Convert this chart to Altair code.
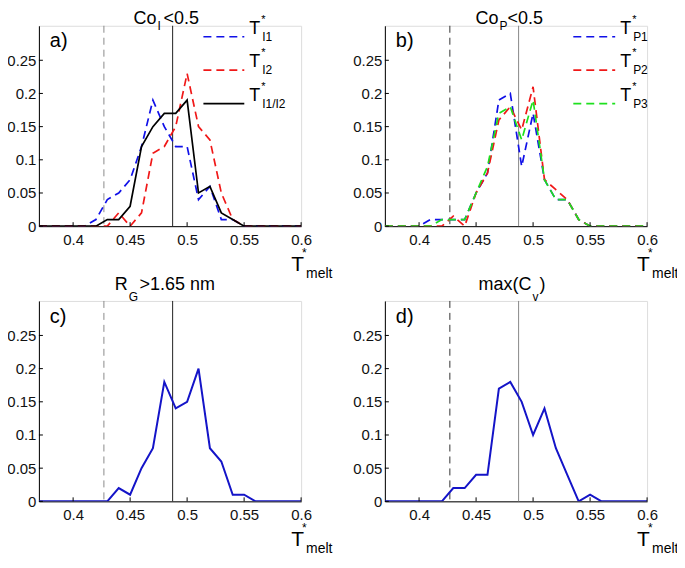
import altair as alt
import pandas as pd

FONT = "Liberation Sans"

# ---------------- data ----------------
T_grid = [0.37, 0.38, 0.39, 0.40, 0.41, 0.42, 0.43, 0.44, 0.45, 0.46, 0.47, 0.48,
          0.49, 0.50, 0.51, 0.52, 0.53, 0.54, 0.55, 0.56, 0.57, 0.58, 0.59, 0.60]

a_I1 = [0, 0, 0, 0, 0, 0.01, 0.04, 0.05, 0.07, 0.12, 0.19, 0.15,
        0.12, 0.12, 0.04, 0.06, 0.01, 0.01, 0, 0, 0, 0, 0, 0]
a_I2 = [0, 0, 0, 0, 0, 0, 0, 0.02, 0, 0.02, 0.11, 0.12,
        0.15, 0.23, 0.15, 0.13, 0.05, 0.01, 0, 0, 0, 0, 0, 0]
a_I1I2 = [0, 0, 0, 0, 0, 0, 0.01, 0.01, 0.03, 0.12, 0.15, 0.17,
          0.17, 0.19, 0.05, 0.06, 0.02, 0.01, 0, 0, 0, 0, 0, 0]

b_P1 = [0, 0, 0, 0, 0.01, 0.01, 0.01, 0.01, 0.05, 0.08, 0.19, 0.20,
        0.09, 0.17, 0.07, 0.04, 0.04, 0.01, 0, 0, 0, 0, 0, 0]
b_P2 = [0, 0, 0, 0, 0, 0, 0.015, 0, 0.05, 0.08, 0.16, 0.18,
        0.145, 0.21, 0.07, 0.055, 0.04, 0.01, 0, 0, 0, 0, 0, 0]
b_P3 = [0, 0, 0, 0, 0, 0.01, 0.01, 0.01, 0.05, 0.09, 0.17, 0.18,
        0.13, 0.19, 0.07, 0.04, 0.04, 0.01, 0, 0, 0, 0, 0, 0]

c_RG = [0, 0, 0, 0, 0, 0, 0, 0.02, 0.01, 0.05, 0.08, 0.18,
        0.14, 0.15, 0.20, 0.08, 0.06, 0.01, 0.01, 0, 0, 0, 0, 0]
d_Cv = [0, 0, 0, 0, 0, 0, 0.02, 0.02, 0.04, 0.04, 0.17, 0.18,
        0.15, 0.10, 0.14, 0.08, 0.04, 0, 0.01, 0, 0, 0, 0, 0]

ref_dashed = [0.427]
ref_solid = [0.4873]
x_ticks = [0.4, 0.45, 0.5, 0.55, 0.6]
y_ticks = [0, 0.05, 0.1, 0.15, 0.2, 0.25]
x_domain = [0.37, 0.6]
y_domain = [0, 0.302]

# ---------------- styling ----------------
W, H = 263, 201
BLUE = "#1010e8"
BLUE_SOLID = "#1414c8"
RED = "#f01818"
GREEN = "#1ee01e"
DASH = [8, 5]
LW = 1.7

XS = alt.Scale(domain=x_domain, nice=False, zero=False)
YS = alt.Scale(domain=y_domain, nice=False, zero=False)
XA = alt.Axis(values=x_ticks, format=".2~f", title=None, ticks=False, labelPadding=6,
              labelFlush=False, labelOverlap=False, grid=False, domainColor="#000",
              domainWidth=1, labelFontSize=15, labelFont=FONT, labelColor="#111")
YA = alt.Axis(values=y_ticks, format=".2~f", title=None, ticks=False, labelPadding=3,
              labelFlush=False, labelOverlap=False, grid=False, domainColor="#000",
              domainWidth=1, labelFontSize=15, labelFont=FONT, labelColor="#111")


def one():
    return alt.Data(values=[{"k": 1}])


def curve(ys, color, dash=None, width=LW):
    df = pd.DataFrame({"T": T_grid, "f": ys})
    kw = dict(color=color, strokeWidth=width, clip=True)
    if dash:
        kw["strokeDash"] = dash
    return alt.Chart(df).mark_line(**kw).encode(
        x=alt.X("T:Q", scale=XS, axis=XA),
        y=alt.Y("f:Q", scale=YS, axis=YA),
    )


def vline(vals, color, dash=None):
    kw = dict(color=color, strokeWidth=1)
    if dash:
        kw["strokeDash"] = dash
    return alt.Chart(pd.DataFrame({"v": vals})).mark_rule(**kw).encode(
        x=alt.X("v:Q", scale=XS, axis=XA)
    )


def inward_ticks():
    yt = alt.Chart(pd.DataFrame({"v": y_ticks})).mark_rule(color="#000", strokeWidth=1).encode(
        y=alt.Y("v:Q", scale=YS, axis=YA), x=alt.value(0), x2=alt.value(4)
    )
    xt = alt.Chart(pd.DataFrame({"v": x_ticks})).mark_rule(color="#000", strokeWidth=1).encode(
        x=alt.X("v:Q", scale=XS, axis=XA), y=alt.value(H), y2=alt.value(H - 4)
    )
    return [yt, xt]


def txt(s, x, y, size, color="#000"):
    return alt.Chart(alt.Data(values=[{"t": s}])).mark_text(
        align="left", baseline="alphabetic", fontSize=size, font=FONT, color=color
    ).encode(text="t:N", x=alt.value(x), y=alt.value(y))


def seg(x1, x2, y, color, dash=None):
    kw = dict(color=color, strokeWidth=LW)
    if dash:
        kw["strokeDash"] = dash
    return alt.Chart(one()).mark_rule(**kw).encode(
        x=alt.value(x1), x2=alt.value(x2), y=alt.value(y)
    )


def tstar(x, y, sub, big=18, small=12):
    # T with superscript * and a subscript
    return [
        txt("T", x, y, big),
        txt("*", x + 12, y - 11, 11),
        txt(sub, x + 13, y + 7, small),
    ]


def xlabel():
    return [
        txt("T", W - 10, H + 45, 21),
        txt("*", W + 1, H + 31, 12),
        txt("melt", W + 5, H + 52, 14),
    ]


# ---------------- panel a ----------------
rows = [11, 44.5, 78]
pa_layers = [
    vline(ref_dashed, "#8a8a8a", [7, 5]),
    vline(ref_solid, "#222"),
    curve(a_I1, BLUE, DASH),
    curve(a_I2, RED, DASH),
    curve(a_I1I2, "#000"),
    *inward_ticks(),
    txt("a)", 11, 21, 20),
    txt("Co", 95, -2, 18), txt("I", 119, 4, 12), txt("<0.5", 125, -2, 18),
    seg(165, 206, rows[0], BLUE, DASH), *tstar(211, rows[0] - 3, "I1"),
    seg(165, 206, rows[1], RED, DASH), *tstar(211, rows[1] - 3, "I2"),
    seg(165, 206, rows[2], "#000"), *tstar(211, rows[2] - 3, "I1/I2"),
    *xlabel(),
]
pa = alt.layer(*pa_layers).properties(width=W, height=H)

# ---------------- panel b ----------------
pb_layers = [
    vline(ref_dashed, "#333", [7, 5]),
    vline(ref_solid, "#888"),
    curve(b_P1, BLUE, DASH),
    curve(b_P2, RED, DASH),
    curve(b_P3, GREEN, DASH),
    *inward_ticks(),
    txt("b)", 11, 21, 20),
    txt("Co", 91, -2, 18), txt("P", 115, 4, 12), txt("<0.5", 123, -2, 18),
    seg(189, 231, rows[0], BLUE, DASH), *tstar(236, rows[0] - 3, "P1"),
    seg(189, 231, rows[1], RED, DASH), *tstar(236, rows[1] - 3, "P2"),
    seg(189, 231, rows[2], GREEN, DASH), *tstar(236, rows[2] - 3, "P3"),
    *xlabel(),
]
pb = alt.layer(*pb_layers).properties(width=W, height=H)

# ---------------- panel c ----------------
pc_layers = [
    vline(ref_dashed, "#8a8a8a", [7, 5]),
    vline(ref_solid, "#222"),
    curve(c_RG, BLUE_SOLID, None, 2),
    *inward_ticks(),
    txt("c)", 11, 22, 20),
    txt("R", 76, -11, 18), txt("G", 90, 0, 12), txt(">1.65 nm", 101, -11, 18),
    *xlabel(),
]
pc = alt.layer(*pc_layers).properties(width=W, height=H)

# ---------------- panel d ----------------
pd_layers = [
    vline(ref_dashed, "#333", [7, 5]),
    vline(ref_solid, "#888"),
    curve(d_Cv, BLUE_SOLID, None, 2),
    *inward_ticks(),
    txt("d)", 11, 22, 20),
    txt("max(C", 94, -11, 18), txt("v", 148, 0, 12), txt(")", 155, -11, 18),
    *xlabel(),
]
pdn = alt.layer(*pd_layers).properties(width=W, height=H)

chart = alt.concat(
    pa, pb, pc, pdn, columns=2,
    spacing=alt.RowColnumber(row=75, column=84), bounds="flush"
).properties(
    padding={"left": -2, "top": 0, "right": -2, "bottom": -3}
).configure_view(stroke=None).configure(background="white")

chart.save("out.html", embed_options={"renderer": "svg", "actions": False})
